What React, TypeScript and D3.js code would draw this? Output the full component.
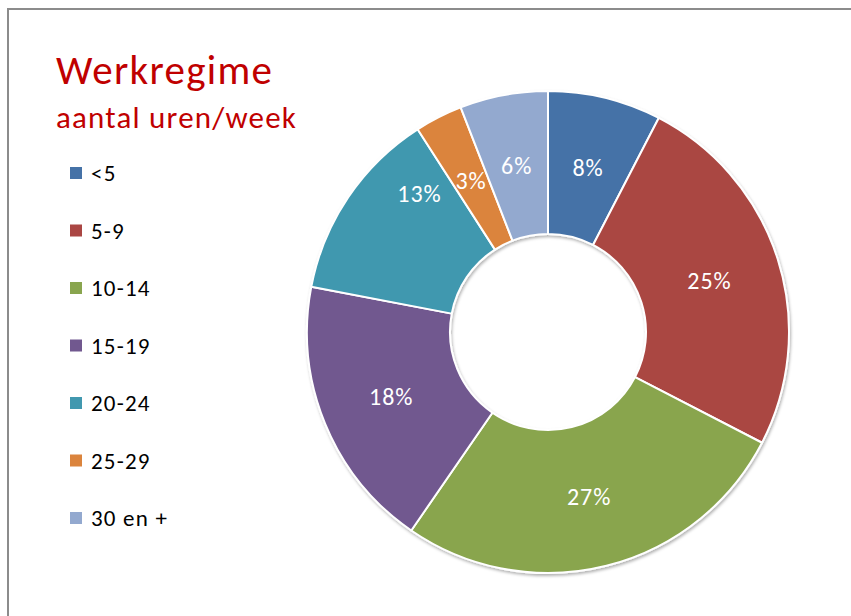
import React, { useRef, useEffect } from 'react';
import * as d3 from 'd3';

// Categories (hours per week) and their shares in percent
const categories = ['<5', '5-9', '10-14', '15-19', '20-24', '25-29', '30 en +'];
const shares = [7.6, 25.0, 27.0, 18.4, 12.9, 3.2, 5.9];
const colors = ['#4572a7', '#aa4643', '#89a54e', '#71588f', '#4198af', '#db843d', '#93a9cf'];

const App = () => {
  const ref = useRef<SVGSVGElement>(null);

  useEffect(() => {
    const width = 851;
    const height = 616;
    const font = 'Carlito, Calibri, Lato, sans-serif';

    const svg = d3.select(ref.current)
      .attr('width', width)
      .attr('height', height);
    svg.selectAll('*').remove();

    // drop shadow for the donut
    const defs = svg.append('defs');
    const filter = defs.append('filter')
      .attr('id', 'shadow')
      .attr('x', '-10%').attr('y', '-10%')
      .attr('width', '120%').attr('height', '120%');
    filter.append('feDropShadow')
      .attr('dx', 1).attr('dy', 2)
      .attr('stdDeviation', 1.5)
      .attr('flood-color', '#000')
      .attr('flood-opacity', 0.3);

    svg.append('rect')
      .attr('width', width).attr('height', height)
      .attr('fill', '#fff');

    // chart area border (runs off the right and bottom)
    svg.append('rect')
      .attr('x', 8).attr('y', 9)
      .attr('width', width + 20).attr('height', height + 20)
      .attr('fill', 'none')
      .attr('stroke', '#8c8c8c')
      .attr('stroke-width', 2);

    // title
    svg.append('text')
      .attr('x', 56).attr('y', 84)
      .attr('font-family', font)
      .attr('font-size', 41)
      .attr('letter-spacing', 1.3)
      .attr('fill', '#c00000')
      .text('Werkregime');
    svg.append('text')
      .attr('x', 56).attr('y', 128)
      .attr('font-family', font)
      .attr('font-size', 31)
      .attr('letter-spacing', 1.2)
      .attr('fill', '#c00000')
      .text('aantal uren/week');

    // legend
    const legendY = d3.scalePoint<string>()
      .domain(categories)
      .range([173, 518]);
    const legend = svg.append('g')
      .selectAll('g')
      .data(categories)
      .enter().append('g')
      .attr('transform', d => `translate(70,${legendY(d)})`);
    legend.append('rect')
      .attr('x', 0).attr('y', -6)
      .attr('width', 12).attr('height', 12)
      .attr('fill', (d, i) => colors[i]);
    legend.append('text')
      .attr('x', 21).attr('y', 0)
      .attr('dy', '0.35em')
      .attr('font-family', font)
      .attr('font-size', 23)
      .attr('letter-spacing', 1.2)
      .attr('fill', '#000')
      .text(d => d);

    // donut
    const cx = 548;
    const cy = 332;
    const outer = 241;
    const inner = 98;

    const pie = d3.pie<number>().sort(null).value(d => d);
    const arcs = pie(shares);
    const arc = d3.arc<d3.PieArcDatum<number>>()
      .innerRadius(inner)
      .outerRadius(outer);

    const g = svg.append('g')
      .attr('transform', `translate(${cx},${cy})`);

    g.append('g')
      .attr('filter', 'url(#shadow)')
      .selectAll('path')
      .data(arcs)
      .enter().append('path')
      .attr('d', arc)
      .attr('fill', (d, i) => colors[i])
      .attr('stroke', '#fff')
      .attr('stroke-width', 2)
      .attr('stroke-linejoin', 'round');

    // the 20-24 label was dragged up in the original
    const nudge = (i: number) => (i === 4 ? [12, -44] : [0, 0]);

    const pct = d3.format('.0f');
    g.selectAll('text.label')
      .data(arcs)
      .enter().append('text')
      .attr('class', 'label')
      .attr('transform', (d, i) => {
        const [x, y] = arc.centroid(d);
        const [nx, ny] = nudge(i);
        return `translate(${x + nx},${y + ny})`;
      })
      .attr('text-anchor', 'middle')
      .attr('dy', '0.35em')
      .attr('font-family', font)
      .attr('font-size', 24)
      .attr('letter-spacing', 1)
      .attr('fill', '#fff')
      .text(d => `${pct(d.data)}%`);
  }, []);

  return (
    <svg ref={ref} style={{ position: 'absolute', left: 0, top: 0 }}></svg>
  );
};

export default App;
